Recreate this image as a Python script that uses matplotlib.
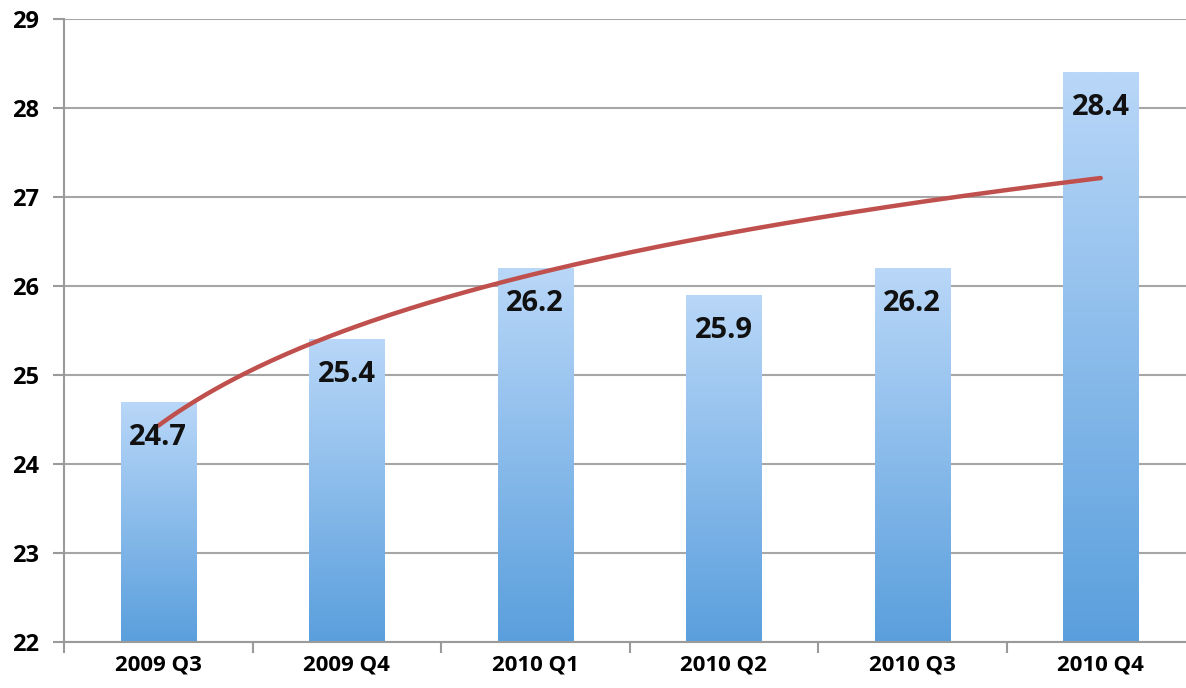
import matplotlib
matplotlib.use('Agg')
import matplotlib.pyplot as plt
from matplotlib.colors import LinearSegmentedColormap
import numpy as np

# Quarterly values
quarters = ['2009 Q3', '2009 Q4', '2010 Q1', '2010 Q2', '2010 Q3', '2010 Q4']
values = [24.7, 25.4, 26.2, 25.9, 26.2, 28.4]
y_ticks = [22, 23, 24, 25, 26, 27, 28, 29]

plt.rcParams['font.family'] = ['Open Sans', 'DejaVu Sans']

fig = plt.figure(figsize=(11.86, 6.88), dpi=100)
ax = fig.add_axes([64 / 1186, 46 / 688, 1131 / 1186, 623 / 688])

x = np.arange(len(quarters))
bar_w = 0.4
base = y_ticks[0]

# vertical gradient: dark blue at the bottom, pale blue at the top
grad = LinearSegmentedColormap.from_list('bar', ['#5a9fdd', '#b9d7f8'])
bars = ax.bar(x, np.array(values) - base, bottom=base, width=bar_w,
              color='none', edgecolor='none', zorder=2)
ramp = np.linspace(0, 1, 256).reshape(-1, 1)
for b in bars:
    x0, y0 = b.get_x(), b.get_y()
    im = ax.imshow(ramp, cmap=grad, origin='lower', aspect='auto',
                   extent=[x0, x0 + b.get_width(), y0, y0 + b.get_height()],
                   zorder=2)
    im.set_clip_path(b)

# value labels inside the top of each bar
for xi, v in zip(x, values):
    ax.annotate(f'{v:.1f}', (xi, v), xytext=(0, -15), textcoords='offset points',
                ha='center', va='top', fontsize=21, fontweight='bold',
                color='#111111', zorder=4)

# logarithmic trendline
xs = np.linspace(1, len(values), 200)
a, c = np.polyfit(np.log(np.arange(1, len(values) + 1)), values, 1)
ax.plot(xs - 1, a * np.log(xs) + c, color='#c0504d', lw=3.2, zorder=3,
        solid_capstyle='round')

ax.set_xlim(-0.5, len(quarters) - 0.5)
ax.set_ylim(22, 29)
ax.set_yticks(y_ticks)
ax.set_xticks(x)
ax.set_xticklabels(quarters)
ax.set_xticks(np.arange(-0.5, len(quarters)), minor=True)
ax.tick_params(axis='x', which='major', length=0, pad=9)
ax.tick_params(axis='x', which='minor', length=8, width=1.5, color='#9a9a9a')
ax.tick_params(axis='y', length=8, width=1.5, color='#9a9a9a', pad=10)
for lbl in ax.get_xticklabels() + ax.get_yticklabels():
    lbl.set_fontweight('bold')
    lbl.set_fontsize(16)
for lbl in ax.get_yticklabels():
    lbl.set_fontsize(17)

ax.yaxis.grid(True, color='#a6a6a6', lw=1.5, zorder=0)
ax.set_axisbelow(True)
for s in ['top', 'right']:
    ax.spines[s].set_visible(False)
for s in ['left', 'bottom']:
    ax.spines[s].set_color('#9a9a9a')
    ax.spines[s].set_linewidth(1.5)

fig.savefig('out.png', dpi=100)
